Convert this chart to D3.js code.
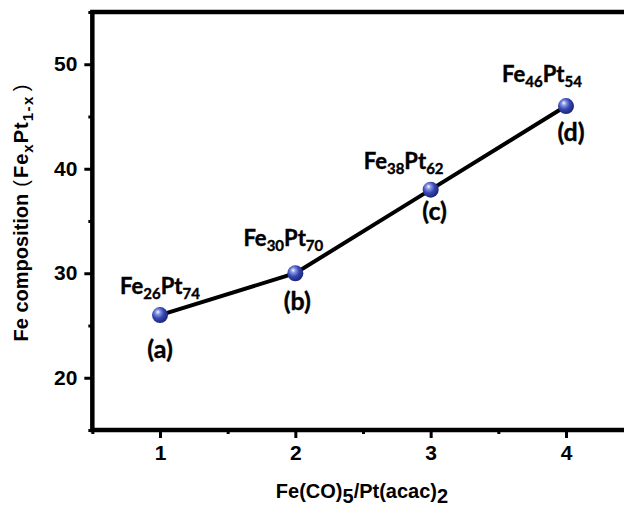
<!DOCTYPE html>
<html>
<head>
<meta charset="utf-8">
<script src="https://cdn.jsdelivr.net/npm/d3@7"></script>
<style>
  html, body { margin: 0; padding: 0; background: #fff; }
  svg { display: block; }
</style>
</head>
<body>
<div id="chart"></div>
<script>
// ratio Fe(CO)5 / Pt(acac)2 and resulting Fe content
const ratios = [1, 2, 3, 4]
const feContent = [26, 30, 38, 46]
const ptContent = [74, 70, 62, 54]
const sampleNames = ['(a)', '(b)', '(c)', '(d)']
const xTicks = [1, 2, 3, 4]
const xMinorTicks = [0.5, 1.5, 2.5, 3.5, 4.5]
const yTicks = [20, 30, 40, 50]
const yMinorTicks = [15, 25, 35, 45, 55]

const width = 624
const height = 506

// label placement nudges (px), one per point
const topNudge = [[0, -21], [-12, -27], [-27, -21], [-24, -24]]
const bottomNudge = [[0, 43], [2, 37], [4, 30], [5, 35]]

const svg = d3.select('#chart').append('svg')
    .attr('width', width)
    .attr('height', height)
    .style('overflow', 'hidden')

const defs = svg.append('defs')
const grad = defs.append('radialGradient')
    .attr('id', 'ball')
    .attr('cx', '0.4').attr('cy', '0.4').attr('r', '0.65')
    .attr('fx', '0.36').attr('fy', '0.3')
grad.append('stop').attr('offset', '0').attr('stop-color', '#ffffff')
grad.append('stop').attr('offset', '0.22').attr('stop-color', '#8a98e4')
grad.append('stop').attr('offset', '0.55').attr('stop-color', '#3447b4')
grad.append('stop').attr('offset', '1').attr('stop-color', '#18216f')

const x = d3.scaleLinear().domain([1, 4]).range([160, 566])
const y = d3.scaleLinear().domain([15, 55]).range([430, 12])

const axisFont = 'Liberation Sans, Arial, sans-serif'
const labelFont = 'Lato, Open Sans, sans-serif'

// minor + major ticks
const drawAxis = (axis, transform) => {
    const g = svg.append('g').attr('transform', transform).call(axis)
    g.select('.domain').remove()
    g.selectAll('.tick line').attr('stroke', '#000').attr('stroke-width', 3)
    g.selectAll('.tick text')
        .attr('font-family', axisFont)
        .attr('font-size', 21)
        .attr('font-weight', 'bold')
        .attr('fill', '#000')
    return g
}

drawAxis(d3.axisBottom(x).tickValues(xMinorTicks).tickSize(4).tickFormat(''), `translate(0,${y(15)})`)
drawAxis(d3.axisBottom(x).tickValues(xTicks).tickSize(8).tickPadding(7).tickFormat(d3.format('d')), `translate(0,${y(15)})`)
drawAxis(d3.axisLeft(y).tickValues(yMinorTicks).tickSize(4).tickFormat(''), `translate(${x(0.5)},0)`)
drawAxis(d3.axisLeft(y).tickValues(yTicks).tickSize(8).tickPadding(7).tickFormat(d3.format('d')), `translate(${x(0.5)},0)`)

// frame (right side falls outside the picture)
svg.append('rect')
    .attr('x', x(0.5))
    .attr('y', y(55))
    .attr('width', x(5) - x(0.5))
    .attr('height', y(15) - y(55))
    .attr('fill', 'none')
    .attr('stroke', '#000')
    .attr('stroke-width', 4.5)

const points = ratios.map((r, i) => ({ r, fe: feContent[i], pt: ptContent[i], name: sampleNames[i], i }))

svg.append('path')
    .datum(points)
    .attr('fill', 'none')
    .attr('stroke', '#000')
    .attr('stroke-width', 4)
    .attr('d', d3.line().x(d => x(d.r)).y(d => y(d.fe)))

svg.selectAll('circle.pt')
    .data(points)
    .join('circle')
    .attr('class', 'pt')
    .attr('cx', d => x(d.r))
    .attr('cy', d => y(d.fe))
    .attr('r', 8)
    .attr('fill', 'url(#ball)')

// composition labels Fe_xPt_y
const comp = svg.selectAll('text.comp')
    .data(points)
    .join('text')
    .attr('class', 'comp')
    .attr('x', d => x(d.r) + topNudge[d.i][0])
    .attr('y', d => y(d.fe) + topNudge[d.i][1])
    .attr('text-anchor', 'middle')
    .attr('font-family', labelFont)
    .attr('font-weight', 'bold')
    .attr('font-size', 22)
    .attr('fill', '#000')
    .attr('stroke', '#000')
    .attr('stroke-width', 0.4)
comp.append('tspan').text('Fe')
comp.append('tspan').attr('dy', 5).attr('font-size', 15).text(d => d.fe)
comp.append('tspan').attr('dy', -5).text('Pt')
comp.append('tspan').attr('dy', 5).attr('font-size', 15).text(d => d.pt)

svg.selectAll('text.name')
    .data(points)
    .join('text')
    .attr('class', 'name')
    .attr('x', d => x(d.r) + bottomNudge[d.i][0])
    .attr('y', d => y(d.fe) + bottomNudge[d.i][1])
    .attr('text-anchor', 'middle')
    .attr('font-family', labelFont)
    .attr('font-weight', 'bold')
    .attr('font-size', 25)
    .attr('fill', '#000')
    .attr('stroke', '#000')
    .attr('stroke-width', 0.4)
    .text(d => d.name)

// axis titles
const xTitle = svg.append('text')
    .attr('x', 362)
    .attr('y', 498)
    .attr('text-anchor', 'middle')
    .attr('font-family', axisFont)
    .attr('font-weight', 'bold')
    .attr('font-size', 20)
xTitle.append('tspan').text('Fe(CO)')
xTitle.append('tspan').attr('dy', 5).text('5')
xTitle.append('tspan').attr('dy', -5).text('/Pt(acac)')
xTitle.append('tspan').attr('dy', 5).text('2')

const yTitle = svg.append('text')
    .attr('transform', 'translate(28,213) rotate(-90)')
    .attr('text-anchor', 'middle')
    .attr('font-family', axisFont)
    .attr('font-weight', 'bold')
    .attr('font-size', 20)
yTitle.append('tspan').text('Fe composition')
yTitle.append('tspan').attr('dx', 7).attr('font-weight', 'normal').attr('font-size', 20).text('(')
yTitle.append('tspan').attr('dx', 2).attr('font-size', 20).attr('letter-spacing', 1).text('Fe')
yTitle.append('tspan').attr('dy', 5).attr('font-size', 15).text('x')
yTitle.append('tspan').attr('dy', -5).attr('dx', 1).attr('font-size', 20).attr('letter-spacing', 1).text('Pt')
yTitle.append('tspan').attr('dy', 5).attr('font-size', 15).attr('letter-spacing', 1.5).text('1-x')
yTitle.append('tspan').attr('dy', -5).attr('dx', 4).attr('font-weight', 'normal').attr('font-size', 20).text(')')
</script>
</body>
</html>
